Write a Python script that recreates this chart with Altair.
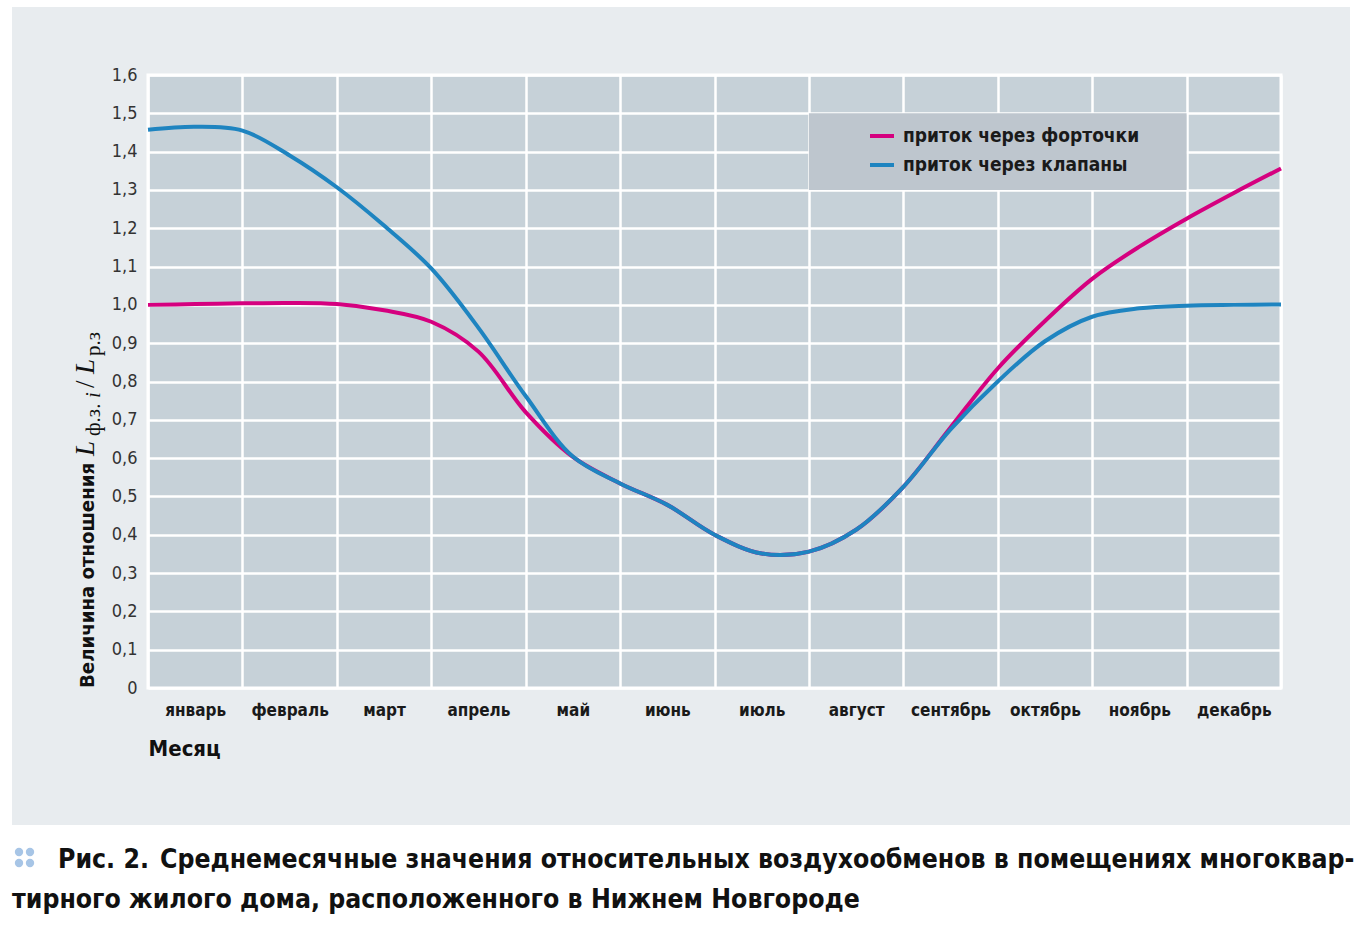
import json
import altair as alt
import pandas as pd

# ---------------- data ----------------
months = ["январь", "февраль", "март", "апрель", "май", "июнь",
          "июль", "август", "сентябрь", "октябрь", "ноябрь", "декабрь"]
x_points = [0, 0.5, 1, 1.5, 2, 2.5, 3, 3.5, 4, 4.5, 5, 5.5, 6,
            6.5, 7, 7.5, 8, 8.5, 9, 9.5, 10, 10.5, 11, 11.5, 12]
fortochki = [1.000, 1.002, 1.004, 1.005, 1.002, 0.986, 0.956, 0.878, 0.720, 0.603,
             0.534, 0.478, 0.400, 0.351, 0.356, 0.413, 0.525, 0.680, 0.834, 0.958,
             1.068, 1.152, 1.225, 1.292, 1.356]
klapany = [1.457, 1.465, 1.455, 1.390, 1.307, 1.207, 1.095, 0.940, 0.762, 0.604,
           0.534, 0.478, 0.400, 0.351, 0.356, 0.413, 0.525, 0.675, 0.800, 0.905,
           0.969, 0.991, 0.998, 1.000, 1.001]
series = ["приток через форточки", "приток через клапаны"]
colors = ["#d5007f", "#1e84c0"]
y_ticks = [0, 0.1, 0.2, 0.3, 0.4, 0.5, 0.6, 0.7, 0.8, 0.9, 1.0,
           1.1, 1.2, 1.3, 1.4, 1.5, 1.6]
x_ticks = [0, 1, 2, 3, 4, 5, 6, 7, 8, 9, 10, 11, 12]

df = pd.DataFrame({
    "x": x_points * 2,
    "value": fortochki + klapany,
    "series": [series[0]] * len(x_points) + [series[1]] * len(x_points),
})

# ---------------- layout ----------------
W, H = 1133, 613
PL, PT = 148, 75
PR, PB = 1364 - PL - W, 925 - PT - H


def px(v):
    return v - PL


def py(v):
    return v - PT


COND = "'DejaVu Sans Condensed', 'Liberation Sans Narrow', Roboto, sans-serif"
SERIF = "'Liberation Serif', 'DejaVu Serif', serif"
one = pd.DataFrame({"a": [0]})

x_enc = alt.X(
    "x:Q",
    scale=alt.Scale(domain=[0, 12], nice=False, zero=False),
    axis=alt.Axis(
        values=x_ticks,
        labelExpr="datum.value < 12 ? " + json.dumps(months, ensure_ascii=False) + "[datum.value] : ''",
        labelOffset=W / 24,
        labelFont=COND, labelFontSize=17, labelFontWeight="bold", labelColor="#1a1a1a",
        labelPadding=14, labelBaseline="top",
        labelOverlap=False, labelFlush=False, labelBound=False,
        ticks=False, tickSize=0, domain=False,
        grid=True, gridColor="white", gridWidth=2.5, gridOpacity=1,
        title="Месяц", titleFont=COND, titleFontSize=22, titleFontWeight="bold",
        titleColor="#111111", titleAnchor="start", titleAlign="left",
        titleX=0, titleY=67, titleBaseline="alphabetic",
    ),
)
y_enc = alt.Y(
    "value:Q",
    scale=alt.Scale(domain=[0, 1.6], nice=False, zero=True),
    axis=alt.Axis(
        values=y_ticks,
        labelExpr="datum.value == 0 ? '0' : replace(format(datum.value, '.1f'), '.', ',')",
        labelFont=COND, labelFontSize=18, labelFontWeight="normal", labelColor="#333333",
        labelPadding=11, ticks=False, tickSize=0, domain=False,
        grid=True, gridColor="white", gridWidth=2.5, gridOpacity=1,
        title=None,
    ),
)
color_enc = alt.Color(
    "series:N",
    scale=alt.Scale(domain=series, range=colors),
    legend=alt.Legend(
        orient="none", legendX=868 - PL, legendY=122 - PT, title=None,
        symbolType="stroke", symbolStrokeWidth=4, symbolSize=576,
        labelFont=COND, labelFontSize=19, labelFontWeight="bold", labelColor="#1a1a1a",
        labelOffset=7, labelLimit=0, rowPadding=5, padding=0,
    ),
)

layers = []

# white page margins around the grey panel
for (x1, x2, y1, y2) in [(0, 12, 0, 925), (0, 1364, 0, 7), (1350, 1364, 0, 925), (0, 1364, 825, 925)]:
    layers.append(
        alt.Chart(one).mark_rect(color="white").encode(
            x=alt.value(px(x1)), x2=alt.value(px(x2)), y=alt.value(py(y1)), y2=alt.value(py(y2))
        )
    )

# caption bullet dots
for (cx, cy) in [(19, 852), (30, 852), (19, 863), (30, 863)]:
    layers.append(
        alt.Chart(one).mark_circle(color="#a7c5e6", opacity=1, size=70).encode(
            x=alt.value(px(cx)), y=alt.value(py(cy))
        )
    )

# caption text
cap = [
    ("Рис. 2.", 58, 868, 900),
    ("Среднемесячные значения относительных воздухообменов в помещениях многоквар-", 160, 868, "bold"),
    ("тирного жилого дома, расположенного в Нижнем Новгороде", 12, 908, "bold"),
]
for (t, cx, cy, wgt) in cap:
    layers.append(
        alt.Chart(one).mark_text(
            text=t, align="left", baseline="alphabetic", font=COND, fontSize=26.4,
            fontWeight=wgt, color="#111111"
        ).encode(x=alt.value(px(cx)), y=alt.value(py(cy)))
    )

# legend box (covers grid cells Aug..Nov, 1.3..1.5)
box = pd.DataFrame({"x": [7], "x2": [11], "value": [1.3], "value2": [1.5]})
layers.append(
    alt.Chart(box).mark_rect(color="#bec6ce").encode(x=x_enc, x2="x2:Q", y=y_enc, y2="value2:Q")
)

# lines: pink first, blue on top
for s in series:
    layers.append(
        alt.Chart(df).transform_filter(alt.datum.series == s)
        .mark_line(strokeWidth=4, interpolate="catmull-rom")
        .encode(x=x_enc, y=y_enc, color=color_enc)
    )

# rotated y-axis title pieces
ytitle = [
    ("Величина отношения", 94, 688, COND, 20.2, "bold", "normal"),
    ("L", 94, 456, SERIF, 27, "normal", "italic"),
    ("ф.з.", 100, 436, SERIF, 21, "normal", "normal"),
    ("i", 100, 398, SERIF, 21, "normal", "italic"),
    ("/", 94, 388, SERIF, 27, "normal", "normal"),
    ("L", 94, 374, SERIF, 27, "normal", "italic"),
    ("р.з", 100, 356, SERIF, 21, "normal", "normal"),
]
for (t, bx, by, f, fs, fw, fst) in ytitle:
    layers.append(
        alt.Chart(one).mark_text(
            text=t, angle=270, align="left", baseline="alphabetic", font=f, fontSize=fs,
            fontWeight=fw, fontStyle=fst, color="#111111"
        ).encode(x=alt.value(px(bx)), y=alt.value(py(by)))
    )

chart = (
    alt.layer(*layers)
    .properties(
        width=W, height=H,
        padding={"left": PL, "top": PT, "right": PR, "bottom": PB},
        autosize=alt.AutoSizeParams(type="none"),
        background="#e8ecef",
    )
    .configure_view(fill="#c6d1d8", stroke="white", strokeWidth=3)
)

chart.save("out.html", embed_options={"renderer": "svg", "actions": False})
